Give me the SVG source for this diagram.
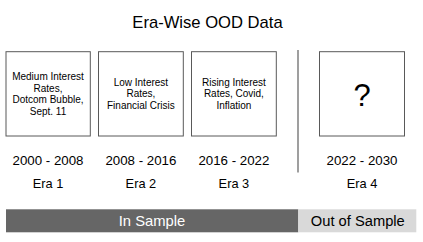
<svg xmlns="http://www.w3.org/2000/svg" width="423" height="242" viewBox="0 0 423 242">
<style>
text{font-family:"Liberation Sans",Arial,sans-serif;fill:#000;text-anchor:middle}
.box{fill:#fff;stroke:#595959;stroke-width:1}
.desc{font-size:10px}
.yr{font-size:13.3px}
.era{font-size:12.8px}
</style>
<rect width="423" height="242" fill="#fff"/>
<text x="207.5" y="28.3" style="font-size:16.6px">Era-Wise OOD Data</text>
<g id="era1">
<rect class="box" x="6" y="51.7" width="84.3" height="84.3"/>
<text class="desc" x="48" y="80">Medium Interest</text>
<text class="desc" x="48" y="91.5">Rates,</text>
<text class="desc" x="48" y="103">Dotcom Bubble,</text>
<text class="desc" x="48" y="114.5">Sept. 11</text>
<text class="yr" x="48" y="164.5">2000 - 2008</text>
<text class="era" x="48" y="187.5">Era 1</text>
</g>
<g id="era2">
<rect class="box" x="98.5" y="51.7" width="84.8" height="84.3"/>
<text class="desc" x="140.9" y="85.7">Low Interest</text>
<text class="desc" x="140.9" y="97.2">Rates,</text>
<text class="desc" x="140.9" y="108.7">Financial Crisis</text>
<text class="yr" x="140.9" y="164.5">2008 - 2016</text>
<text class="era" x="140.9" y="187.5">Era 2</text>
</g>
<g id="era3">
<rect class="box" x="191.5" y="51.7" width="84.8" height="84.3"/>
<text class="desc" x="233.9" y="85.7">Rising Interest</text>
<text class="desc" x="233.9" y="97.2">Rates, Covid,</text>
<text class="desc" x="233.9" y="108.7">Inflation</text>
<text class="yr" x="233.9" y="164.5">2016 - 2022</text>
<text class="era" x="233.9" y="187.5">Era 3</text>
</g>
<g id="era4">
<rect class="box" x="319.5" y="51.7" width="85" height="84.3"/>
<text x="362" y="106" style="font-size:31px">?</text>
<text class="yr" x="362" y="164.5">2022 - 2030</text>
<text class="era" x="362" y="187.5">Era 4</text>
</g>
<g id="connectors">
<line x1="298" y1="50" x2="298" y2="172.5" stroke="#7f7f7f" stroke-width="1.5"/>
</g>
<g id="in-sample">
<rect x="6" y="209.3" width="292.3" height="23" fill="#666666"/>
<text x="152" y="226.3" style="font-size:14.8px;fill:#fff">In Sample</text>
</g>
<g id="out-of-sample">
<rect x="298.3" y="209.3" width="118" height="23" fill="#d9d9d9"/>
<text x="357.8" y="226.3" style="font-size:14.7px">Out of Sample</text>
</g>
</svg>
